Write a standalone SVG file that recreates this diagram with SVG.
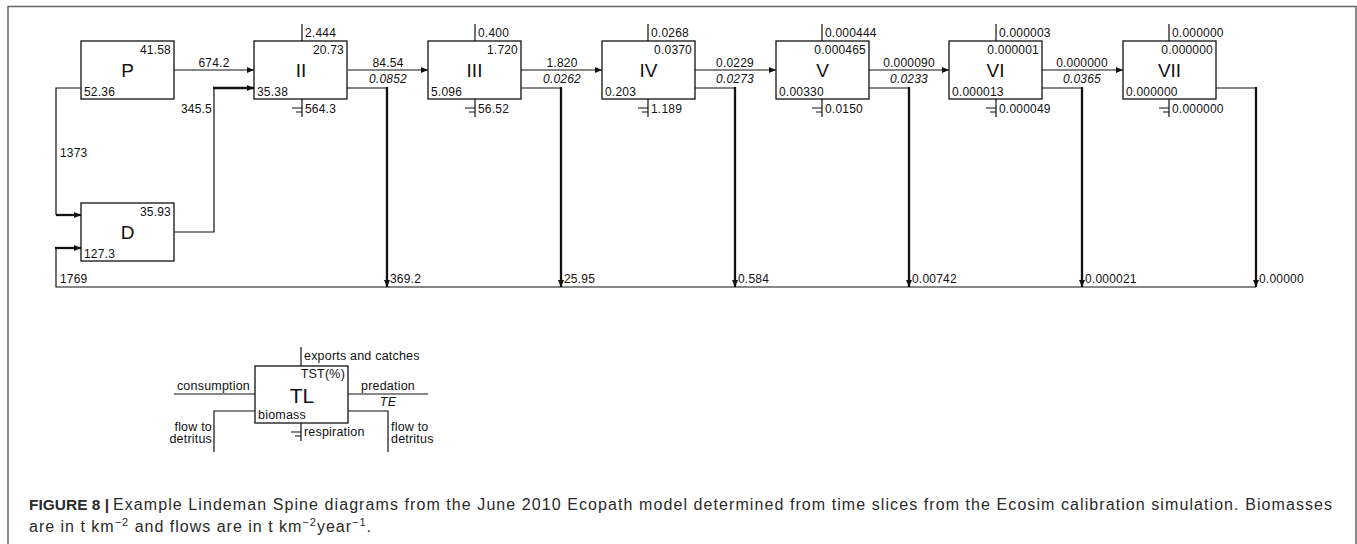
<svg xmlns="http://www.w3.org/2000/svg" width="1357" height="544" viewBox="0 0 1357 544">
<style>
.box{fill:#fff;stroke:#111;stroke-width:1.3}
.ln{fill:none;stroke:#111;stroke-width:1.2}
.thk{fill:none;stroke:#111;stroke-width:2.3}
text{font-family:"Liberation Sans",Arial,sans-serif;font-size:12px;letter-spacing:0.2px;fill:#111}
.big{font-size:19px;letter-spacing:0}
.it{font-style:italic}
.mid{text-anchor:middle}
.end{text-anchor:end}
.lg{font-size:12.5px}
.cap{font-size:16px;letter-spacing:0;fill:#2a2a2a}
.capb{font-size:15.5px;letter-spacing:0;font-weight:bold;fill:#2a2a2a}
</style>
<defs>
<marker id="ah" markerUnits="userSpaceOnUse" markerWidth="7" markerHeight="6" refX="7" refY="3" orient="auto">
<path d="M0,0 L7,3 L0,6 z" fill="#111"/>
</marker>
</defs>
<rect x="8" y="6.5" width="1348" height="580" fill="none" stroke="#666" stroke-width="1.5"/>

<g id="connectors">
<path class="ln" d="M174,70 H254" marker-end="url(#ah)"/>
<path class="ln" d="M81,88 H56 V215"/>
<path class="thk" d="M56,215 H81" marker-end="url(#ah)"/>
<path class="ln" d="M174,232 H214 V88"/>
<path class="thk" d="M213,88 H254" marker-end="url(#ah)"/>
<path class="ln" d="M1256,287 H56 V248"/>
<path class="thk" d="M55,248 H81" marker-end="url(#ah)"/>
<path class="ln" d="M348,70 H428" marker-end="url(#ah)"/>
<path class="ln" d="M521,70 H602" marker-end="url(#ah)"/>
<path class="ln" d="M695,70 H776" marker-end="url(#ah)"/>
<path class="ln" d="M869,70 H949" marker-end="url(#ah)"/>
<path class="ln" d="M1042,70 H1123" marker-end="url(#ah)"/>
<path class="ln" d="M347,88 H387"/><path class="thk" d="M387,87 V287" marker-end="url(#ah)"/>
<path class="ln" d="M521,88 H561"/><path class="thk" d="M561,87 V287" marker-end="url(#ah)"/>
<path class="ln" d="M695,88 H735"/><path class="thk" d="M735,87 V287" marker-end="url(#ah)"/>
<path class="ln" d="M869,88 H909"/><path class="thk" d="M909,87 V287" marker-end="url(#ah)"/>
<path class="ln" d="M1042,88 H1082"/><path class="thk" d="M1082,87 V287" marker-end="url(#ah)"/>
<path class="ln" d="M1216,88 H1256"/><path class="thk" d="M1256,87 V287" marker-end="url(#ah)"/>
<text x="214" y="67" class="mid">674.2</text>
<text x="60" y="157">1373</text>
<text x="212" y="113" class="end">345.5</text>
<text x="60" y="283">1769</text>
<text x="388" y="67" class="mid">84.54</text><text x="388" y="83" class="mid it">0.0852</text>
<text x="562" y="67" class="mid">1.820</text><text x="562" y="83" class="mid it">0.0262</text>
<text x="735" y="67" class="mid">0.0229</text><text x="735" y="83" class="mid it">0.0273</text>
<text x="909" y="67" class="mid">0.000090</text><text x="909" y="83" class="mid it">0.0233</text>
<text x="1082" y="67" class="mid">0.000000</text><text x="1082" y="83" class="mid it">0.0365</text>
<text x="390" y="283">369.2</text>
<text x="564" y="283">25.95</text>
<text x="738" y="283">0.584</text>
<text x="912" y="283">0.00742</text>
<text x="1085" y="283">0.000021</text>
<text x="1259" y="283">0.00000</text>
</g>

<g id="P">
<rect class="box" x="81" y="41" width="93" height="58"/>
<text x="127.5" y="77" class="big mid">P</text>
<text x="171" y="54" class="end">41.58</text>
<text x="84" y="96">52.36</text>
</g>
<g id="D">
<rect class="box" x="81" y="203" width="93" height="58"/>
<text x="127.5" y="239" class="big mid">D</text>
<text x="171" y="216" class="end">35.93</text>
<text x="84" y="258">127.3</text>
</g>

<g id="TL2">
<rect class="box" x="254" y="41" width="93" height="58"/>
<path class="ln" d="M302,24 V41 M302,99 V117 M292,108 H302 M296,112 H302"/>
<text x="301" y="77" class="big mid">II</text>
<text x="344" y="54" class="end">20.73</text>
<text x="257" y="96">35.38</text>
<text x="305" y="37">2.444</text>
<text x="305" y="113">564.3</text>
</g>
<g id="TL3">
<rect class="box" x="428" y="41" width="93" height="58"/>
<path class="ln" d="M475,24 V41 M475,99 V117 M465,108 H475 M469,112 H475"/>
<text x="474.5" y="77" class="big mid">III</text>
<text x="518" y="54" class="end">1.720</text>
<text x="431" y="96">5.096</text>
<text x="478" y="37">0.400</text>
<text x="478" y="113">56.52</text>
</g>
<g id="TL4">
<rect class="box" x="602" y="41" width="93" height="58"/>
<path class="ln" d="M648,24 V41 M648,99 V117 M638,108 H648 M642,112 H648"/>
<text x="648.5" y="77" class="big mid">IV</text>
<text x="692" y="54" class="end">0.0370</text>
<text x="605" y="96">0.203</text>
<text x="651" y="37">0.0268</text>
<text x="651" y="113">1.189</text>
</g>
<g id="TL5">
<rect class="box" x="776" y="41" width="93" height="58"/>
<path class="ln" d="M822,24 V41 M822,99 V117 M812,108 H822 M816,112 H822"/>
<text x="822.5" y="77" class="big mid">V</text>
<text x="866" y="54" class="end">0.000465</text>
<text x="779" y="96">0.00330</text>
<text x="825" y="37">0.000444</text>
<text x="825" y="113">0.0150</text>
</g>
<g id="TL6">
<rect class="box" x="949" y="41" width="93" height="58"/>
<path class="ln" d="M996,24 V41 M996,99 V117 M986,108 H996 M990,112 H996"/>
<text x="995.5" y="77" class="big mid">VI</text>
<text x="1039" y="54" class="end">0.000001</text>
<text x="952" y="96">0.000013</text>
<text x="999" y="37">0.000003</text>
<text x="999" y="113">0.000049</text>
</g>
<g id="TL7">
<rect class="box" x="1123" y="41" width="93" height="58"/>
<path class="ln" d="M1169,24 V41 M1169,99 V117 M1159,108 H1169 M1163,112 H1169"/>
<text x="1169.5" y="77" class="big mid">VII</text>
<text x="1213" y="54" class="end">0.000000</text>
<text x="1126" y="96">0.000000</text>
<text x="1172" y="37">0.000000</text>
<text x="1172" y="113">0.000000</text>
</g>

<g id="legend">
<rect class="box" x="255" y="366" width="93" height="57"/>
<path class="ln" d="M301,347 V366 M301,423 V441 M291,432 H301 M295,436 H301 M174,394 H255 M348,394 H428 M255,411 H214 V452 M348,411 H388 V452"/>
<text x="302" y="403" class="big mid" style="font-size:21px">TL</text>
<text x="345" y="378" class="end lg">TST(%)</text>
<text x="258" y="419" class="lg">biomass</text>
<text x="304" y="360" class="lg">exports and catches</text>
<text x="250" y="390" class="end lg">consumption</text>
<text x="388" y="390" class="mid lg">predation</text>
<text x="388" y="406" class="mid it lg">TE</text>
<text x="304" y="436" class="lg">respiration</text>
<text x="212" y="431" class="end lg">flow to</text>
<text x="212" y="443" class="end lg">detritus</text>
<text x="391" y="431" class="lg">flow to</text>
<text x="391" y="443" class="lg">detritus</text>
</g>

<g id="caption">
<text x="29" y="510" class="capb">FIGURE 8 |</text>
<text x="113" y="510" class="cap" textLength="1219" lengthAdjust="spacing">Example Lindeman Spine diagrams from the June 2010 Ecopath model determined from time slices from the Ecosim calibration simulation. Biomasses</text>
<text x="29" y="532" class="cap" textLength="342" lengthAdjust="spacing">are in t km<tspan font-size="11px" dy="-6">−2</tspan><tspan dy="6"> and flows are in t km</tspan><tspan font-size="11px" dy="-6">−2</tspan><tspan dy="6">year</tspan><tspan font-size="11px" dy="-6">−1</tspan><tspan dy="6">.</tspan></text>
</g>
</svg>
